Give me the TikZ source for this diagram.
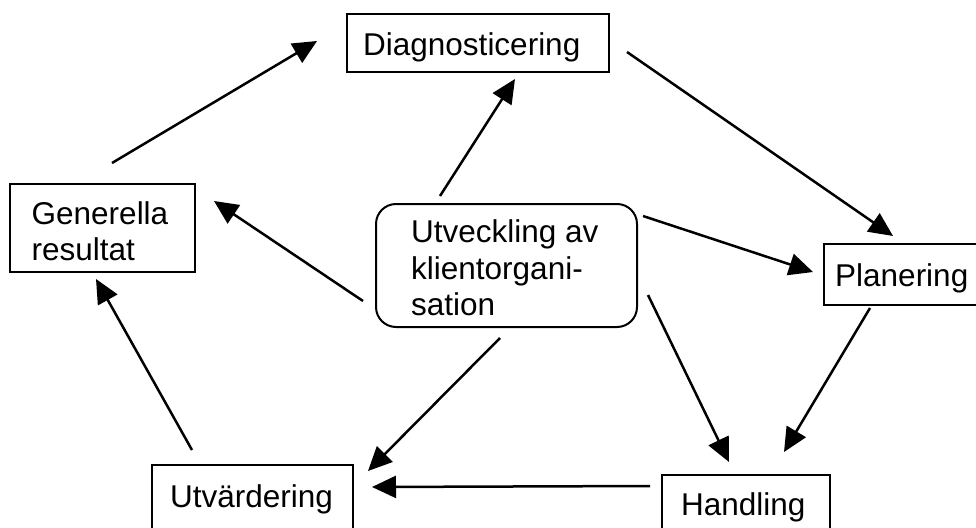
\documentclass[tikz,border=0pt]{standalone}
\usepackage{fontspec}
\setmainfont{Liberation Sans}
\usetikzlibrary{arrows.meta,calc}
\begin{document}
\begin{tikzpicture}[x=1pt,y=-1pt,
  box/.style={draw,line width=2pt,inner sep=0pt},
  lbl/.style={font=\fontsize{31.5}{36.5}\selectfont,inner sep=0pt,anchor=north west,align=left},
  conn/.style={line width=2.5pt,-{Triangle[length=24pt,width=22pt]}}]
\useasboundingbox (0,0) rectangle (976,527);
\clip (0,0) rectangle (976,527);
\fill[white] (0,0) rectangle (976,527);

% frames
\node[box,minimum width=262pt,minimum height=58pt] (diag) at (478,43) {};
\node[box,minimum width=185pt,minimum height=88pt] (gen) at (102.5,228) {};
\node[box,rounded corners=20pt,minimum width=261pt,minimum height=123pt] (org) at (506.5,265.5) {};
\node[box,minimum width=166pt,minimum height=61pt] (plan) at (907,274.5) {};
\node[box,minimum width=201pt,minimum height=80pt] (utv) at (252.5,505) {};
\node[box,minimum width=168pt,minimum height=80pt] (hand) at (746,515) {};

% labels
\node[lbl] (diagtxt) at (363,32.4) {Diagnosticering};
\node[lbl] (gentxt) at (31.5,201.4) {Generella\\resultat};
\node[lbl] (orgtxt) at (411,219.8) {Utveckling av\\klientorgani-\\sation};
\node[lbl] (plantxt) at (835,263) {Planering};
\node[lbl] (utvtxt) at (170,484.4) {Utvärdering};
\node[lbl] (handtxt) at (681,492.4) {Handling};

% connectors
\draw[conn] ($(gen.north)+(9.5,-20)$) -- ($(diag.west)+(-29,-2)$);
\draw[conn] ($(diag.east)+(17,9)$) -- ($(plan.north west)+(70,-7)$);
\draw[conn] ($(org.north)+(-66.5,-7)$) -- ($(diag.south)+(37,6)$);
\draw[conn] ($(org.west)+(-12,35.5)$) -- ($(gen.east)+(18,-27)$);
\draw[conn] ($(org.north east)+(5,13)$) -- ($(plan.north west)+(-10,29)$);
\draw[conn] ($(org.east)+(10,29.5)$) -- ($(hand.north)+(-17,-12)$);
\draw[conn] ($(org.south)+(-6.5,10)$) -- ($(utv.north east)+(14,7)$);
\draw[conn] ($(plan.south west)+(47,2)$) -- ($(hand.north east)+(-47,-22)$);
\draw[conn] ($(hand.north west)+(-11,12)$) -- ($(utv.north east)+(18,23)$);
\draw[conn] ($(utv.north west)+(41,-14)$) -- ($(gen.south)+(-6.5,6)$);
\end{tikzpicture}
\end{document}
